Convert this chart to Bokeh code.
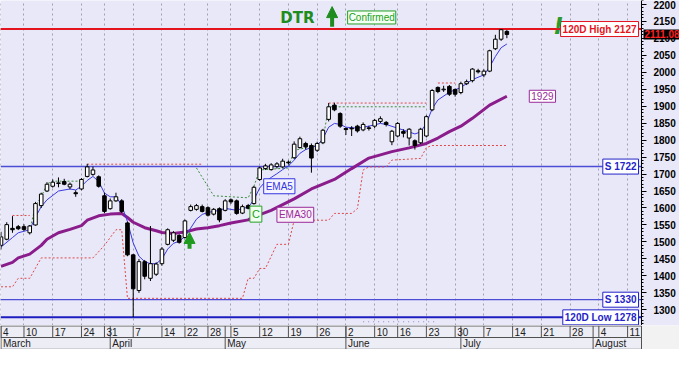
from bokeh.plotting import figure
from bokeh.models import (Range1d, Label, Arrow, NormalHead, FixedTicker, LinearAxis,
                          SingleIntervalTicker, Grid, BoxAnnotation)
from bokeh.layouts import column
from bokeh.embed import file_html
from bokeh.resources import INLINE
from bokeh.core.properties import value

# ---------------- data ----------------
open_ = [1490, 1508, 1540, 1545, 1545, 1527, 1550, 1607, 1650, 1664,
         1672, 1678, 1662, 1645, 1656, 1693, 1699, 1692, 1636, 1598,
         1621, 1621, 1556, 1462, 1357, 1442, 1393, 1405, 1436, 1493,
         1505, 1519, 1513, 1593, 1596, 1604, 1601, 1582, 1598, 1593,
         1624, 1621, 1585, 1607, 1613, 1684, 1716, 1713, 1722, 1721,
         1735, 1748, 1778, 1790, 1784, 1770, 1792, 1861, 1903, 1878,
         1834, 1835, 1841, 1830, 1836, 1841, 1855, 1852, 1795, 1812,
         1825, 1806, 1798, 1792, 1812, 1889, 1955, 1948, 1958, 1949,
         1940, 1966, 1975, 2004, 1992, 2003, 2069, 2097, 2120]
high = [1530, 1558, 1576, 1550, 1552, 1550, 1618, 1645, 1676, 1684,
        1690, 1686, 1675, 1652, 1688, 1730, 1722, 1696, 1645, 1628,
        1645, 1626, 1560, 1465, 1450, 1447, 1547, 1440, 1485, 1540,
        1532, 1523, 1566, 1610, 1612, 1610, 1605, 1600, 1602, 1626,
        1628, 1625, 1610, 1612, 1665, 1722, 1730, 1732, 1735, 1745,
        1740, 1796, 1810, 1795, 1790, 1795, 1833, 1909, 1910, 1882,
        1837, 1841, 1845, 1852, 1842, 1862, 1870, 1856, 1830, 1853,
        1832, 1835, 1802, 1836, 1873, 1950, 1958, 1960, 1962, 1952,
        1972, 1978, 2012, 2010, 2008, 2066, 2110, 2127, 2124]
low = [1478, 1505, 1527, 1535, 1532, 1522, 1548, 1600, 1647, 1660,
       1661, 1667, 1655, 1633, 1652, 1690, 1695, 1660, 1585, 1595,
       1618, 1585, 1458, 1279, 1350, 1390, 1385, 1400, 1430, 1490,
       1500, 1495, 1510, 1590, 1592, 1587, 1575, 1578, 1558, 1590,
       1612, 1580, 1582, 1596, 1610, 1680, 1712, 1710, 1716, 1718,
       1728, 1744, 1775, 1772, 1704, 1765, 1788, 1855, 1885, 1836,
       1815, 1812, 1822, 1826, 1828, 1835, 1850, 1840, 1785, 1808,
       1808, 1784, 1772, 1788, 1808, 1885, 1938, 1942, 1930, 1928,
       1935, 1962, 1970, 1996, 1985, 2000, 2065, 2092, 2100]
close = [1515, 1551, 1536, 1539, 1537, 1547, 1613, 1641, 1670, 1676,
         1674, 1670, 1670, 1642, 1684, 1721, 1712, 1664, 1590, 1621,
         1633, 1590, 1462, 1362, 1442, 1399, 1436, 1435, 1479, 1536,
         1527, 1499, 1562, 1604, 1607, 1590, 1579, 1596, 1565, 1621,
         1618, 1584, 1604, 1599, 1661, 1718, 1724, 1727, 1730, 1738,
         1733, 1788, 1804, 1780, 1747, 1790, 1829, 1898, 1889, 1841,
         1831, 1833, 1827, 1846, 1834, 1858, 1863, 1846, 1826, 1849,
         1820, 1832, 1784, 1832, 1869, 1946, 1943, 1950, 1935, 1935,
         1966, 1972, 2009, 2001, 2003, 2063, 2097, 2125, 2111.08]
day_idx = list(range(len(close)))

ema5_idx = [0, 2, 3, 5, 6, 7, 8, 10, 12, 13, 14, 15, 16, 17, 18, 19, 20, 21, 22, 23,
            24, 25, 26, 27, 28, 29, 30, 31, 32, 33, 34, 35, 36, 37, 38, 39, 40, 41, 42, 43,
            44, 45, 46, 47, 48, 49, 50, 51, 52, 53, 54, 55, 56, 57, 58, 59, 60, 62, 64, 66,
            67, 69, 71, 72, 73, 74, 75, 76, 78, 80, 82, 84, 85, 86, 87, 88]
ema5_val = [1485, 1513, 1527, 1536, 1573, 1604, 1624, 1650, 1656, 1653,
            1664, 1681, 1693, 1678, 1644, 1633, 1633, 1608, 1560, 1497,
            1458, 1442, 1436, 1436, 1450, 1479, 1496, 1502, 1516, 1541,
            1567, 1581, 1587, 1590, 1593, 1599, 1596, 1593, 1599, 1602,
            1624, 1659, 1678, 1690, 1701, 1713, 1724, 1741, 1761, 1772,
            1778, 1784, 1804, 1838, 1849, 1846, 1838, 1835, 1841, 1849,
            1846, 1835, 1824, 1818, 1824, 1849, 1892, 1918, 1941, 1955,
            1978, 1992, 2015, 2046, 2072, 2083]

ema30_idx = [0, 2, 3, 5, 7, 8, 10, 12, 14, 15, 17, 19, 21, 22, 23, 25, 27, 28, 30, 32,
             34, 36, 38, 40, 43, 44, 47, 51, 54, 58, 61, 64, 68, 71, 74, 76, 78, 80, 82, 85, 88]
ema30_val = [1428, 1440, 1453, 1464, 1490, 1508, 1527, 1537, 1548, 1564,
             1577, 1582, 1584, 1572, 1558, 1542, 1533, 1528, 1525, 1529,
             1538, 1542, 1548, 1556, 1565, 1574, 1593, 1627, 1656, 1684,
             1716, 1747, 1766, 1777, 1790, 1806, 1825, 1841, 1864, 1903, 1929]

stop_idx = [0, 2, 3, 5, 7, 16, 18, 20, 21, 22, 42, 43, 44, 45, 46, 48, 50, 51, 57, 58,
            61, 62, 63, 64, 67, 68, 73, 74, 75, 88]
stop_val = [1368, 1368, 1393, 1393, 1453, 1453, 1490, 1536, 1536, 1334,
            1334, 1393, 1393, 1422, 1422, 1493, 1493, 1564, 1564, 1584,
            1584, 1598, 1712, 1721, 1721, 1741, 1746, 1778, 1784, 1784]

red_a_idx, red_a_val = [2, 5], [1578, 1578]
red_b_idx, red_b_val = [15, 35], [1729, 1729]
red_c_idx, red_c_val = [57, 74], [1909, 1909]
red_d_idx, red_d_val = [76, 79], [1968, 1968]
green_a_idx = [5, 6, 7, 8, 9, 14, 15]
green_a_val = [1532, 1608, 1632, 1671, 1679, 1679, 1698]
green_b_idx = [34, 37, 43, 44, 45, 50, 51, 55, 56, 57, 74]
green_b_val = [1718, 1636, 1630, 1664, 1712, 1718, 1770, 1784, 1801, 1898, 1898]
faint_idx, faint_val = [63, 76], [1265, 1265]

high_120d = 2127
low_120d = 1278
support = [1722, 1330]
ema30_last = 1929
signal_idx = 32.8

week_idx = [0, 4, 9, 14, 18, 23, 28, 32, 36, 40, 45, 50, 55, 60, 65, 69, 74, 79, 84, 89,
            94, 99, 104, 109]
week_labels = ["4", "10", "17", "24", "31", "7", "14", "22", "28", "5", "12", "19", "26",
               "2", "10", "16", "23", "30", "7", "14", "21", "28", "4", "11"]
month_idx = [0, 19, 39, 60, 80, 103]
month_labels = ["March", "April", "May", "June", "July", "August"]

# ---------------- style / layout ----------------
BG = "#E8E8F8"
FONT = "Liberation Sans"
RED = "#E3141E"
BLUE = "#2424C8"
SLINE = "#4C4CD6"
PURPLE = "#8B1C8B"
GREEN = "#1E8C1E"
W, FH, BH = 679, 325, 24
FW = 641                       # price-area width, the axis strip fills the rest
XS, XA = -0.085, 111.42        # left edge and axis position (in trading days)
XE = XS + (XA - XS) * W / FW   # right edge of the whole strip
XR = Range1d(XS, XE)

p = figure(frame_width=W, frame_height=FH, x_range=XR, y_range=Range1d(1254, 2211),
           output_backend="svg", toolbar_location=None,
           x_axis_location=None, y_axis_location=None, min_border=0,
           background_fill_color=BG, border_fill_color=BG, outline_line_color=None)
p.grid.visible = False
p.add_layout(Grid(dimension=0, ticker=FixedTicker(ticks=week_idx),
                  grid_line_color="#A0A0B0", grid_line_dash="2 3", grid_line_width=1))

ax = LinearAxis(fixed_location=XA,
                ticker=SingleIntervalTicker(interval=50, num_minor_ticks=5),
                axis_line_color="black", major_tick_line_color="black",
                minor_tick_line_color="black", major_tick_out=5, major_tick_in=0,
                minor_tick_out=2, minor_tick_in=0, major_label_standoff=7,
                major_label_text_font=FONT, major_label_text_font_size="10px",
                major_label_text_font_style="bold", major_label_text_color="black")
p.add_layout(ax, "right")

# level lines (stop at the axis)
levels = [high_120d, support[0], support[1], low_120d]
p.segment(x0=[XS] * 4, x1=[XA] * 4, y0=levels, y1=levels,
          line_color=[RED, SLINE, SLINE, "#1E1EC0"], line_width=[2, 1.5, 1.2, 2])

# dotted stop / trigger lines
dot = dict(line_dash="2 2", line_width=1)
p.line(stop_idx, stop_val, line_color="#E04848", **dot)
p.line(red_a_idx, red_a_val, line_color="#E04848", **dot)
p.line(red_b_idx, red_b_val, line_color="#E04848", **dot)
p.line(red_c_idx, red_c_val, line_color="#E04848", **dot)
p.line(red_d_idx, red_d_val, line_color="#E04848", **dot)
p.line(green_a_idx, green_a_val, line_color="#3C8C3C", **dot)
p.line(green_b_idx, green_b_val, line_color="#3C8C3C", **dot)
p.line(faint_idx, faint_val, line_color="#8C8CC0", line_dash="1 4", line_width=1)

# moving averages
p.line(ema30_idx, ema30_val, line_color=PURPLE, line_width=3)
p.line(ema5_idx, ema5_val, line_color="#3A3AE0", line_width=1)

# candles
up = [i for i in day_idx if close[i] >= open_[i]]
dn = [i for i in day_idx if close[i] < open_[i]]
p.segment(x0=day_idx, y0=low, x1=day_idx, y1=high, line_color="black", line_width=1)
p.vbar(x=up, width=0.62, top=[close[i] for i in up], bottom=[open_[i] for i in up],
       fill_color="white", line_color="black", line_width=1)
p.vbar(x=dn, width=0.62, top=[open_[i] for i in dn], bottom=[close[i] for i in dn],
       fill_color="black", line_color="black", line_width=1)

# labels
def box(x, y, text, color, align="left", size="10px", bold=False, fill="white", xo=0, pad=2):
    p.add_layout(Label(x=x, y=y, x_offset=xo, text=text, text_align=align,
                       text_baseline="middle", text_font=FONT, text_font_size=size,
                       text_font_style="bold" if bold else "normal", text_color=color,
                       background_fill_color=fill, border_line_color=color,
                       border_line_width=1, padding=pad))

box(XA, high_120d, "120D High %d" % high_120d, RED, align="right", bold=True, xo=-3)
box(XA, support[0], "S %d" % support[0], BLUE, align="right", bold=True, xo=-3)
box(XA, support[1], "S %d" % support[1], BLUE, align="right", bold=True, xo=-3)
box(XA, low_120d, "120D Low %d" % low_120d, BLUE, align="right", bold=True, xo=-3)
box(91.9, ema30_last, "%d" % ema30_last, "#9A2A9A")
box(45.7, 1664, "EMA5", "#3535E0", fill="#F4F4FF")
box(48.0, 1580, "EMA30", "#9A2A9A", fill="#F8F0F8")
box(43.3, 1582, "C", "#22A022", fill="#F0FFF0", size="11px")
box(60.3, 2161, "Confirmed", "#22A022", fill="#F4FFF4", pad=1)

# last price marker on the axis
p.add_layout(Label(x=XA, y=close[-1], x_offset=2, text="%.2f" % close[-1],
                   text_align="left", text_baseline="middle", text_font=FONT,
                   text_font_size="10px", text_font_style="bold", text_color="#FF2020",
                   background_fill_color="black", padding=1))

p.add_layout(Label(x=48.6, y=2160, text="DTR", text_align="left", text_baseline="middle",
                   text_font="DejaVu Sans", text_font_size="15px", text_font_style="bold",
                   text_color=GREEN))
p.add_layout(Label(x=97.0, y=2136, text="!", text_align="center", text_baseline="middle",
                   text_font="DejaVu Sans", text_font_size="23px",
                   text_font_style="bold italic", text_color="#2A9A2A"))

p.add_layout(Arrow(x_start=57.6, y_start=2134, x_end=57.6, y_end=2193,
                   line_color=GREEN, line_width=4,
                   end=NormalHead(size=11, fill_color=GREEN, line_color=GREEN)))
p.add_layout(Arrow(x_start=signal_idx, y_start=1480, x_end=signal_idx, y_end=1528,
                   line_color="#1E9A1E", line_width=4,
                   end=NormalHead(size=11, fill_color="#1E9A1E", line_color="#1E9A1E")))

# ---------------- date band ----------------
b = figure(frame_width=W, frame_height=BH, x_range=XR, y_range=Range1d(-0.04, 2.04),
           output_backend="svg", toolbar_location=None,
           x_axis_location=None, y_axis_location=None, min_border=0,
           background_fill_color="#EDEDF6", border_fill_color="#F2F2F2",
           outline_line_color=None)
b.grid.visible = False
b.add_layout(BoxAnnotation(left=XA, fill_color="#F2F2F2", fill_alpha=1,
                           line_color=None, level="underlay"))
b.segment(x0=[XS, XS, XS], x1=[XA, XA, XA], y0=[0, 1, 2], y1=[0, 1, 2],
          line_color=["#B0B0B8", "#505050", "#505050"], line_width=1)
b.segment(x0=[XA], x1=[XA], y0=[0], y1=[2], line_color="#505050", line_width=1)
b.segment(x0=week_idx, y0=[1] * len(week_idx), x1=week_idx, y1=[2] * len(week_idx),
          line_color="#505050", line_width=1)
b.segment(x0=month_idx, y0=[0] * len(month_idx), x1=month_idx, y1=[2] * len(month_idx),
          line_color="#505050", line_width=1)
b.text(x=week_idx, y=[1.5] * len(week_idx), text=week_labels, x_offset=2,
       text_align="left", text_baseline="middle", text_font=value(FONT),
       text_font_size="10px", text_color="#202020")
b.text(x=month_idx, y=[0.5] * len(month_idx), text=month_labels, x_offset=2,
       text_align="left", text_baseline="middle", text_font=value(FONT),
       text_font_size="10px", text_color="#202020")

layout = column(p, b, spacing=0)
open("out.html", "w").write(file_html(layout, INLINE))
